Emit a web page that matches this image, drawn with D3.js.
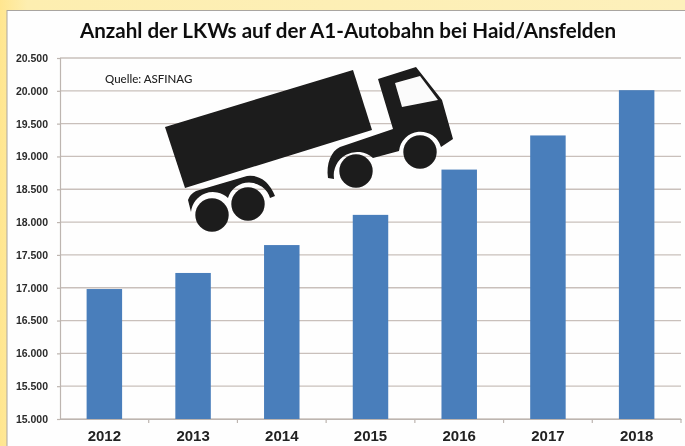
<!DOCTYPE html>
<html>

<head>
    <meta charset='utf-8'>
    <title>Anzahl der LKWs</title>
    <script type='text/javascript' src='https://cdn.jsdelivr.net/npm/d3@7/dist/d3.min.js'></script>
    <style>
        html, body { margin: 0; padding: 0; background: #fdeeb0; }
        svg { display: block; font-family: Lato, sans-serif; }
    </style>
</head>

<body>
    <svg width='685' height='446'></svg>
    <script type='text/javascript'>

        const years = ['2012', '2013', '2014', '2015', '2016', '2017', '2018']
        const trucks = [16980, 17225, 17650, 18110, 18800, 19320, 20010]
        const yTicks = [15000, 15500, 16000, 16500, 17000, 17500, 18000, 18500, 19000, 19500, 20000, 20500]
        const titleText = 'Anzahl der LKWs auf der A1-Autobahn bei Haid/Ansfelden'
        const sourceText = 'Quelle: ASFINAG'

        const svg = d3.select('svg')
        const margin = { top: 58, left: 60, right: 681, bottom: 419 }
        const deLocale = d3.formatLocale({ decimal: ',', thousands: '.', grouping: [3], currency: ['', ' €'] })

        const xScale = d3.scaleBand(years, [margin.left, margin.right]).paddingInner(0.6).paddingOuter(0.3)
        const yScale = d3.scaleLinear([15000, 20500], [margin.bottom, margin.top])

        // leichter Scan-Look
        const defs = svg.append('defs')
        defs.append('filter').attr('id', 'soft')
            .append('feGaussianBlur').attr('stdDeviation', 0.45)
        const bg = defs.append('linearGradient').attr('id', 'paper')
        bg.append('stop').attr('offset', '0%').attr('stop-color', '#ffe68f')
        bg.append('stop').attr('offset', '4%').attr('stop-color', '#fdeeb0')
        bg.append('stop').attr('offset', '100%').attr('stop-color', '#fdf0bb')

        svg.append('rect').attr('width', 685).attr('height', 446).attr('fill', 'url(#paper)')

        const g = svg.append('g').attr('filter', 'url(#soft)')

        // Blatt
        g.append('rect')
            .attr('x', 7).attr('y', 10.5).attr('width', 685).attr('height', 450)
            .attr('fill', '#fefefe').attr('stroke', '#a9a5a0').attr('stroke-width', 1)

        // Raster
        g.append('g').selectAll('line').data(yTicks).join('line')
            .attr('x1', margin.left).attr('x2', margin.right)
            .attr('y1', d => yScale(d)).attr('y2', d => yScale(d))
            .attr('stroke', '#c9c0bb').attr('stroke-width', 1.3)

        // Balken
        g.append('g').selectAll('rect').data(trucks).join('rect')
            .attr('x', (d, i) => xScale(years[i]))
            .attr('y', d => yScale(d))
            .attr('width', xScale.bandwidth())
            .attr('height', d => yScale(15000) - yScale(d))
            .attr('fill', '#4a7ebb')

        // Achsen
        const yAxis = d3.axisLeft(yScale).tickValues(yTicks).tickSize(3).tickPadding(9)
            .tickFormat(deLocale.format(',d'))
        const gy = g.append('g').attr('transform', `translate(${margin.left},0)`).call(yAxis)
        gy.selectAll('text').attr('font-size', 10.5).attr('font-weight', 700).attr('fill', '#2b2b2b')
        gy.selectAll('line, path').attr('stroke', '#bdb5b0').attr('stroke-width', 1.2)

        const xAxis = d3.axisBottom(xScale).tickSize(0).tickPadding(11)
        const gx = g.append('g').attr('transform', `translate(0,${margin.bottom})`).call(xAxis)
        gx.selectAll('text').attr('font-size', 15).attr('font-weight', 700).attr('fill', '#222')
        gx.select('path').attr('stroke', '#bdb5b0').attr('stroke-width', 1.2)

        // Teilstriche zwischen den Jahren
        const step = xScale.step()
        gx.append('g').selectAll('line').data(years).join('line')
            .attr('x1', d => xScale(d) + xScale.bandwidth() / 2 + step / 2)
            .attr('x2', d => xScale(d) + xScale.bandwidth() / 2 + step / 2)
            .attr('y1', 0).attr('y2', 4)
            .attr('stroke', '#bdb5b0').attr('stroke-width', 1.2)

        // Titel und Quelle
        g.append('text').attr('x', 348).attr('y', 38).attr('text-anchor', 'middle')
            .attr('font-size', 20.6).attr('font-weight', 700).attr('fill', '#111')
            .text(titleText)
        g.append('text').attr('x', 105).attr('y', 83)
            .attr('font-size', 11.5).attr('font-weight', 500).attr('fill', '#222')
            .text(sourceText)

        // LKW
        const truck = g.append('g').attr('fill', '#1b1a1a')
        truck.append('path').attr('d', 'M165,127 L353,70 L372,130 L185,188 Z')
        truck.append('path').attr('d',
            'M378,79 L416,67 L442,100 L453,139 L441,147 A21.5,21.5 0 0 0 399,151 L373,158 ' +
            'A23.5,23.5 0 0 0 334,179 L328,178 C326,164 331,151 340,147 L393,129 Z')
        truck.append('path').attr('d', 'M395,83 L420,76 L438,100 L402,107 Z').attr('fill', '#fbfbfb')
        truck.append('path').attr('d',
            'M188,200 Q190,194 196,191 L247,176 Q266,174 275,196 L270,198 ' +
            'A22,22 0 0 0 228,198 A22,22 0 0 0 191,212 Z')
        truck.append('g').selectAll('circle').data([[212, 215], [248, 204], [356, 171], [420, 152]]).join('circle')
            .attr('cx', d => d[0]).attr('cy', d => d[1]).attr('r', 16.7)
    </script>
</body>

</html>
